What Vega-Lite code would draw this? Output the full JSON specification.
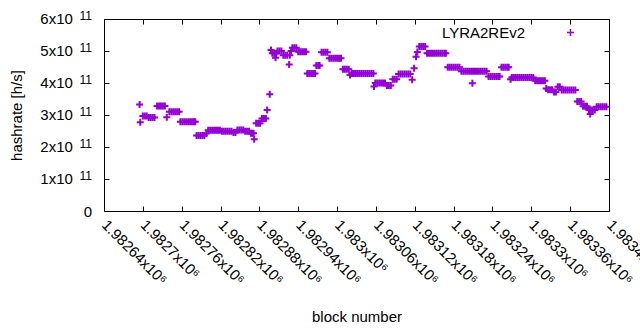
{
"$schema": "https://vega.github.io/schema/vega-lite/v6.json",
"width": 505,
"height": 192,
"autosize": {"type": "none"},
"padding": {"left": 104, "top": 19, "right": 31, "bottom": 119},
"background": "white",
"config": {
  "view": {"stroke": "black", "strokeWidth": 1},
  "font": "Liberation Sans",
  "axis": {"grid": false, "domain": false, "tickColor": "black", "tickSize": -5, "tickWidth": 1, "labelColor": "black", "labelFont": "Liberation Sans", "labelFontSize": 15, "titleFont": "Liberation Sans", "titleFontSize": 15, "titleFontWeight": "normal", "titleColor": "black", "labelOverlap": false, "labelFlush": false}
},
"data": {"values": [
{"block":1982695,"hashrate":3.33e11},{"block":1982696,"hashrate":2.77e11},
{"block":1982700,"hashrate":2.97e11},{"block":1982703,"hashrate":2.97e11},{"block":1982706,"hashrate":2.97e11},
{"block":1982709,"hashrate":2.92e11},{"block":1982712,"hashrate":2.92e11},{"block":1982715,"hashrate":2.92e11},{"block":1982718,"hashrate":2.92e11},
{"block":1982722,"hashrate":3.28e11},{"block":1982725,"hashrate":3.28e11},{"block":1982728,"hashrate":3.28e11},{"block":1982731,"hashrate":3.28e11},{"block":1982734,"hashrate":3.28e11},
{"block":1982737,"hashrate":2.93e11},
{"block":1982741,"hashrate":3.10e11},{"block":1982744,"hashrate":3.10e11},{"block":1982747,"hashrate":3.10e11},{"block":1982750,"hashrate":3.10e11},{"block":1982753,"hashrate":3.10e11},{"block":1982756,"hashrate":3.10e11},
{"block":1982758,"hashrate":2.79e11},{"block":1982761,"hashrate":2.79e11},{"block":1982764,"hashrate":2.79e11},{"block":1982767,"hashrate":2.79e11},{"block":1982770,"hashrate":2.79e11},{"block":1982773,"hashrate":2.79e11},{"block":1982776,"hashrate":2.79e11},{"block":1982779,"hashrate":2.79e11},{"block":1982781,"hashrate":2.79e11},
{"block":1982783,"hashrate":2.36e11},{"block":1982786,"hashrate":2.36e11},{"block":1982789,"hashrate":2.36e11},{"block":1982792,"hashrate":2.36e11},{"block":1982795,"hashrate":2.36e11},
{"block":1982798,"hashrate":2.42e11},
{"block":1982801,"hashrate":2.52e11},{"block":1982804,"hashrate":2.52e11},{"block":1982807,"hashrate":2.52e11},{"block":1982810,"hashrate":2.52e11},{"block":1982813,"hashrate":2.52e11},{"block":1982816,"hashrate":2.52e11},{"block":1982819,"hashrate":2.52e11},
{"block":1982822,"hashrate":2.49e11},{"block":1982825,"hashrate":2.49e11},{"block":1982828,"hashrate":2.49e11},{"block":1982831,"hashrate":2.49e11},{"block":1982834,"hashrate":2.49e11},{"block":1982837,"hashrate":2.49e11},
{"block":1982840,"hashrate":2.45e11},{"block":1982843,"hashrate":2.45e11},
{"block":1982846,"hashrate":2.53e11},{"block":1982849,"hashrate":2.53e11},{"block":1982852,"hashrate":2.53e11},{"block":1982855,"hashrate":2.53e11},
{"block":1982858,"hashrate":2.49e11},{"block":1982861,"hashrate":2.49e11},{"block":1982864,"hashrate":2.49e11},
{"block":1982867,"hashrate":2.43e11},{"block":1982869,"hashrate":2.43e11},{"block":1982871,"hashrate":2.43e11},
{"block":1982872,"hashrate":2.24e11},
{"block":1982875,"hashrate":2.74e11},{"block":1982878,"hashrate":2.74e11},{"block":1982881,"hashrate":2.74e11},
{"block":1982884,"hashrate":2.89e11},{"block":1982887,"hashrate":2.89e11},{"block":1982890,"hashrate":2.89e11},
{"block":1982892,"hashrate":3.16e11},{"block":1982896,"hashrate":3.65e11},
{"block":1982898,"hashrate":5.03e11},
{"block":1982900,"hashrate":4.93e11},{"block":1982903,"hashrate":4.93e11},{"block":1982906,"hashrate":4.93e11},
{"block":1982905,"hashrate":4.79e11},
{"block":1982908,"hashrate":5.00e11},{"block":1982911,"hashrate":5.00e11},{"block":1982914,"hashrate":5.00e11},
{"block":1982917,"hashrate":4.87e11},{"block":1982920,"hashrate":4.87e11},{"block":1982923,"hashrate":4.87e11},
{"block":1982926,"hashrate":4.58e11},{"block":1982927,"hashrate":4.87e11},{"block":1982929,"hashrate":5.00e11},
{"block":1982931,"hashrate":5.10e11},{"block":1982934,"hashrate":5.10e11},{"block":1982937,"hashrate":5.10e11},
{"block":1982940,"hashrate":4.98e11},{"block":1982943,"hashrate":4.98e11},{"block":1982946,"hashrate":4.98e11},{"block":1982949,"hashrate":4.98e11},{"block":1982952,"hashrate":4.98e11},
{"block":1982954,"hashrate":4.30e11},{"block":1982957,"hashrate":4.30e11},{"block":1982960,"hashrate":4.30e11},{"block":1982963,"hashrate":4.30e11},{"block":1982966,"hashrate":4.30e11},
{"block":1982968,"hashrate":4.55e11},{"block":1982971,"hashrate":4.55e11},{"block":1982973,"hashrate":4.55e11},
{"block":1982976,"hashrate":4.96e11},{"block":1982979,"hashrate":4.96e11},{"block":1982982,"hashrate":4.96e11},{"block":1982985,"hashrate":4.96e11},
{"block":1982988,"hashrate":4.77e11},{"block":1982991,"hashrate":4.77e11},{"block":1982994,"hashrate":4.77e11},{"block":1982997,"hashrate":4.77e11},{"block":1983000,"hashrate":4.77e11},{"block":1983003,"hashrate":4.77e11},{"block":1983006,"hashrate":4.77e11},
{"block":1983009,"hashrate":4.43e11},{"block":1983012,"hashrate":4.43e11},{"block":1983015,"hashrate":4.43e11},{"block":1983018,"hashrate":4.43e11},
{"block":1983020,"hashrate":4.25e11},
{"block":1983023,"hashrate":4.30e11},{"block":1983026,"hashrate":4.30e11},{"block":1983029,"hashrate":4.30e11},{"block":1983032,"hashrate":4.30e11},{"block":1983035,"hashrate":4.30e11},{"block":1983038,"hashrate":4.30e11},{"block":1983041,"hashrate":4.30e11},{"block":1983044,"hashrate":4.30e11},{"block":1983047,"hashrate":4.30e11},{"block":1983050,"hashrate":4.30e11},{"block":1983053,"hashrate":4.30e11},{"block":1983056,"hashrate":4.30e11},
{"block":1983057,"hashrate":3.89e11},
{"block":1983059,"hashrate":4.00e11},{"block":1983062,"hashrate":4.00e11},{"block":1983065,"hashrate":4.00e11},{"block":1983068,"hashrate":4.00e11},{"block":1983071,"hashrate":4.00e11},{"block":1983074,"hashrate":4.00e11},
{"block":1983077,"hashrate":3.92e11},{"block":1983080,"hashrate":3.92e11},{"block":1983083,"hashrate":3.92e11},
{"block":1983086,"hashrate":4.12e11},{"block":1983089,"hashrate":4.12e11},{"block":1983092,"hashrate":4.12e11},
{"block":1983095,"hashrate":4.28e11},{"block":1983098,"hashrate":4.28e11},{"block":1983101,"hashrate":4.28e11},{"block":1983104,"hashrate":4.28e11},{"block":1983107,"hashrate":4.28e11},{"block":1983110,"hashrate":4.28e11},{"block":1983113,"hashrate":4.28e11},
{"block":1983116,"hashrate":4.10e11},{"block":1983119,"hashrate":4.46e11},{"block":1983122,"hashrate":4.82e11},{"block":1983124,"hashrate":4.97e11},
{"block":1983127,"hashrate":5.14e11},{"block":1983130,"hashrate":5.14e11},{"block":1983133,"hashrate":5.14e11},{"block":1983136,"hashrate":5.14e11},
{"block":1983139,"hashrate":4.93e11},{"block":1983142,"hashrate":4.93e11},{"block":1983145,"hashrate":4.93e11},{"block":1983148,"hashrate":4.93e11},{"block":1983151,"hashrate":4.93e11},{"block":1983154,"hashrate":4.93e11},{"block":1983157,"hashrate":4.93e11},{"block":1983160,"hashrate":4.93e11},{"block":1983163,"hashrate":4.93e11},{"block":1983166,"hashrate":4.93e11},{"block":1983168,"hashrate":4.93e11},
{"block":1983171,"hashrate":4.49e11},{"block":1983174,"hashrate":4.49e11},{"block":1983177,"hashrate":4.49e11},{"block":1983180,"hashrate":4.49e11},{"block":1983183,"hashrate":4.49e11},{"block":1983186,"hashrate":4.49e11},{"block":1983189,"hashrate":4.49e11},
{"block":1983192,"hashrate":4.37e11},{"block":1983195,"hashrate":4.37e11},{"block":1983198,"hashrate":4.37e11},{"block":1983201,"hashrate":4.37e11},{"block":1983204,"hashrate":4.37e11},{"block":1983207,"hashrate":4.37e11},{"block":1983210,"hashrate":4.37e11},{"block":1983213,"hashrate":4.37e11},{"block":1983216,"hashrate":4.37e11},{"block":1983219,"hashrate":4.37e11},{"block":1983222,"hashrate":4.37e11},{"block":1983225,"hashrate":4.37e11},{"block":1983228,"hashrate":4.37e11},{"block":1983231,"hashrate":4.37e11},
{"block":1983209,"hashrate":3.99e11},
{"block":1983234,"hashrate":4.20e11},{"block":1983237,"hashrate":4.20e11},{"block":1983240,"hashrate":4.20e11},{"block":1983243,"hashrate":4.20e11},{"block":1983246,"hashrate":4.20e11},{"block":1983249,"hashrate":4.20e11},{"block":1983251,"hashrate":4.20e11},
{"block":1983254,"hashrate":4.49e11},{"block":1983257,"hashrate":4.49e11},{"block":1983260,"hashrate":4.49e11},{"block":1983263,"hashrate":4.49e11},{"block":1983265,"hashrate":4.49e11},
{"block":1983268,"hashrate":4.12e11},
{"block":1983270,"hashrate":4.17e11},{"block":1983273,"hashrate":4.17e11},{"block":1983276,"hashrate":4.17e11},{"block":1983279,"hashrate":4.17e11},{"block":1983282,"hashrate":4.17e11},{"block":1983285,"hashrate":4.17e11},{"block":1983288,"hashrate":4.17e11},{"block":1983291,"hashrate":4.17e11},{"block":1983294,"hashrate":4.17e11},{"block":1983297,"hashrate":4.17e11},{"block":1983300,"hashrate":4.17e11},{"block":1983303,"hashrate":4.17e11},
{"block":1983306,"hashrate":4.07e11},{"block":1983309,"hashrate":4.07e11},{"block":1983312,"hashrate":4.07e11},{"block":1983315,"hashrate":4.07e11},{"block":1983318,"hashrate":4.07e11},{"block":1983321,"hashrate":4.07e11},
{"block":1983323,"hashrate":3.83e11},
{"block":1983326,"hashrate":3.79e11},{"block":1983329,"hashrate":3.79e11},{"block":1983332,"hashrate":3.79e11},
{"block":1983335,"hashrate":3.72e11},{"block":1983338,"hashrate":3.72e11},
{"block":1983341,"hashrate":3.88e11},{"block":1983344,"hashrate":3.88e11},
{"block":1983347,"hashrate":3.78e11},{"block":1983350,"hashrate":3.78e11},{"block":1983353,"hashrate":3.78e11},{"block":1983356,"hashrate":3.78e11},{"block":1983359,"hashrate":3.78e11},{"block":1983362,"hashrate":3.78e11},{"block":1983365,"hashrate":3.78e11},{"block":1983368,"hashrate":3.78e11},
{"block":1983371,"hashrate":3.42e11},{"block":1983374,"hashrate":3.42e11},{"block":1983377,"hashrate":3.42e11},
{"block":1983380,"hashrate":3.27e11},{"block":1983383,"hashrate":3.27e11},{"block":1983386,"hashrate":3.27e11},
{"block":1983389,"hashrate":3.16e11},{"block":1983392,"hashrate":3.16e11},{"block":1983395,"hashrate":3.16e11},{"block":1983398,"hashrate":3.16e11},
{"block":1983391,"hashrate":3.03e11},
{"block":1983401,"hashrate":3.26e11},{"block":1983404,"hashrate":3.26e11},{"block":1983407,"hashrate":3.26e11},{"block":1983410,"hashrate":3.26e11},{"block":1983413,"hashrate":3.26e11},{"block":1983416,"hashrate":3.26e11}
]},
"layer": [
  {
    "mark": {"type": "point", "shape": "M-1,0H1M0,-1V1", "filled": false, "size": 49, "strokeWidth": 2, "opacity": 1},
    "encoding": {
      "x": {"field": "block", "type": "quantitative", "scale": {"domain": [1982640, 1983420], "nice": false, "zero": false},
        "axis": {"orient": "bottom", "values": [1982640,1982700,1982760,1982820,1982880,1982940,1983000,1983060,1983120,1983180,1983240,1983300,1983360,1983420],
          "labelExpr": "(datum.value/1e6) + 'x10⁶'", "labelAngle": 45, "labelAlign": "left", "labelBaseline": "middle", "labelPadding": 16,
          "title": "block number", "titleY": 110, "titleBaseline": "alphabetic"}},
      "y": {"field": "hashrate", "type": "quantitative", "scale": {"domain": [0, 600000000000], "nice": false},
        "axis": {"orient": "left", "values": [0,100000000000,200000000000,300000000000,400000000000,500000000000,600000000000],
          "labelExpr": "datum.value == 0 ? '' : (datum.value/1e11) + 'x10'", "labelPadding": 36.6, "labelOffset": -1,
          "title": "hashrate [h/s]", "titleX": -88, "titleBaseline": "middle"}},
      "color": {"datum": "LYRA2REv2", "type": "nominal", "scale": {"range": ["#9400d3"]},
        "legend": {"orient": "none", "legendX": 459, "legendY": 6, "title": null, "padding": 0, "labelFontSize": 15, "labelFont": "Liberation Sans", "labelColor": "black", "labelAlign": "right", "labelOffset": -53,
          "symbolType": "M-1,0H1M0,-1V1", "symbolSize": 49, "symbolStrokeWidth": 1.5, "symbolStrokeColor": "#9400d3", "symbolFillColor": "transparent"}}
    }
  },
  {
    "mark": {"type": "point", "opacity": 0},
    "encoding": {
      "x": {"field": "block", "type": "quantitative", "scale": {"domain": [1982640, 1983420], "nice": false, "zero": false},
        "axis": {"orient": "top", "values": [1982640,1982700,1982760,1982820,1982880,1982940,1983000,1983060,1983120,1983180,1983240,1983300,1983360,1983420], "labels": false, "title": null}},
      "y": {"field": "hashrate", "type": "quantitative", "scale": {"domain": [0, 600000000000], "nice": false},
        "axis": {"orient": "left", "values": [0,100000000000,200000000000,300000000000,400000000000,500000000000,600000000000],
          "ticks": false, "labelExpr": "datum.value == 0 ? '0' : '11'",
          "labelFontSize": {"condition": {"test": "datum.value == 0", "value": 15}, "value": 12},
          "labelOffset": {"condition": {"test": "datum.value == 0", "value": 0}, "value": -4},
          "labelPadding": 12.5, "title": null}}
    }
  },
  {
    "mark": {"type": "point", "opacity": 0},
    "encoding": {
      "x": {"field": "block", "type": "quantitative", "scale": {"domain": [1982640, 1983420], "nice": false, "zero": false}, "axis": null},
      "y": {"field": "hashrate", "type": "quantitative", "scale": {"domain": [0, 600000000000], "nice": false},
        "axis": {"orient": "right", "values": [0,100000000000,200000000000,300000000000,400000000000,500000000000,600000000000], "labels": false, "title": null}}
    }
  }
],
"resolve": {"axis": {"x": "independent", "y": "independent"}}
}
